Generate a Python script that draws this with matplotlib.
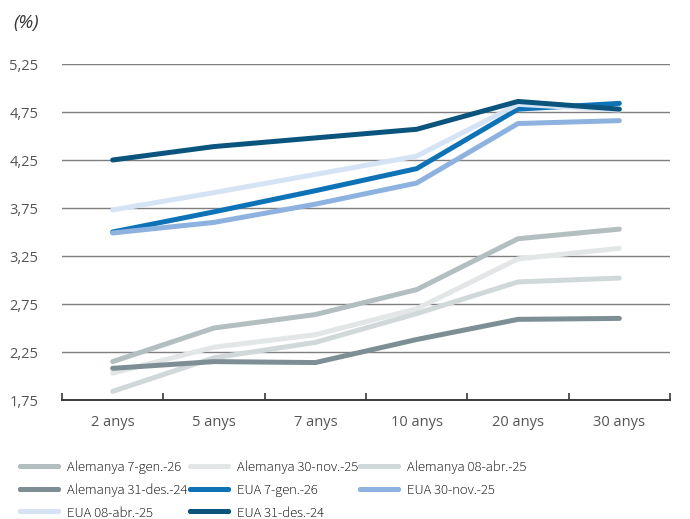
import matplotlib
matplotlib.use("Agg")
import matplotlib.pyplot as plt
from matplotlib.ticker import FixedLocator

plt.rcParams['font.family'] = ['Open Sans', 'DejaVu Sans']

categories = ["2 anys", "5 anys", "7 anys", "10 anys", "20 anys", "30 anys"]
yticks = [1.75, 2.25, 2.75, 3.25, 3.75, 4.25, 4.75, 5.25]
ytick_labels = ["1,75", "2,25", "2,75", "3,25", "3,75", "4,25", "4,75", "5,25"]

labels = ["Alemanya 7-gen.-26", "Alemanya 30-nov.-25", "Alemanya 08-abr.-25",
          "Alemanya 31-des.-24", "EUA 7-gen.-26", "EUA 30-nov.-25",
          "EUA 08-abr.-25", "EUA 31-des.-24"]

alemanya_7gen26 = [2.15, 2.50, 2.64, 2.90, 3.43, 3.53]
alemanya_30nov25 = [2.03, 2.30, 2.43, 2.70, 3.22, 3.33]
alemanya_08abr25 = [1.84, 2.19, 2.35, 2.65, 2.98, 3.02]
alemanya_31des24 = [2.08, 2.15, 2.14, 2.38, 2.59, 2.60]
eua_7gen26 = [3.50, 3.71, 3.93, 4.16, 4.78, 4.84]
eua_30nov25 = [3.49, 3.60, 3.79, 4.01, 4.63, 4.66]
eua_08abr25 = [3.73, 3.91, 4.10, 4.29, 4.83, 4.77]
eua_31des24 = [4.25, 4.39, 4.48, 4.57, 4.86, 4.78]

series = [alemanya_7gen26, alemanya_30nov25, alemanya_08abr25, alemanya_31des24,
          eua_7gen26, eua_30nov25, eua_08abr25, eua_31des24]
colors = ["#b3bec1", "#e2e6e7", "#d1d8d9", "#7d8f95",
          "#0e72b7", "#8db2df", "#d5e3f4", "#0b547d"]

fig = plt.figure(figsize=(6.9, 5.19), dpi=100)
ax = fig.add_axes([62/690, 1-400/519, 608/690, 336/519])

x = list(range(len(categories)))
for vals, lab, col in zip(series, labels, colors):
    ax.plot(x, vals, color=col, lw=3.6, solid_capstyle='round',
            solid_joinstyle='round', label=lab, zorder=3)

ax.set_xlim(-0.5, len(categories) - 0.5)
ax.set_ylim(1.75, 5.25)
ax.set_yticks(yticks)
ax.set_yticklabels(ytick_labels)
ax.set_xticks(x)
ax.set_xticklabels(categories)
ax.xaxis.set_minor_locator(FixedLocator([i - 0.5 for i in range(len(categories) + 1)]))
ax.tick_params(axis='x', which='major', length=0, pad=11, labelsize=10.5)
ax.tick_params(axis='x', which='minor', direction='in', length=5, width=1.2, color='#3a3a3a')
ax.tick_params(axis='y', length=0, pad=17, labelsize=10.5)
for lab in ax.get_yticklabels():
    lab.set_color('#555555')
for lab in ax.get_xticklabels():
    lab.set_color('#555555')

for yv in yticks[1:]:
    ax.axhline(yv, color='#7f7f7f', lw=1.0, zorder=1)

for s in ['top', 'right', 'left']:
    ax.spines[s].set_visible(False)
ax.spines['bottom'].set_color('#3a3a3a')
ax.spines['bottom'].set_linewidth(1.4)
ax.set_facecolor('none')

fig.text(13/690, 1-23/519, "(%)", fontsize=13.5, style='italic', color='#333333',
         va='center', ha='left')

handles, labs = ax.get_legend_handles_labels()
order_cols = [[0, 3, 6], [1, 4, 7], [2, 5]]
col_x = [20, 190, 360]
for xs, col in zip(col_x, order_cols):
    leg = fig.legend([handles[i] for i in col], [labs[i] for i in col],
                     loc='upper left', bbox_to_anchor=(xs/690, 1-461/519),
                     frameon=False,
                     prop={'family': ['Source Sans 3', 'Open Sans'], 'size': 10.5,
                           'weight': 'medium'},
                     handlelength=2.6, handletextpad=0.6, labelspacing=0.62,
                     borderpad=0, borderaxespad=0, labelcolor='#2e2e2e')
    fig.add_artist(leg)

fig.savefig("out.png", dpi=100)
